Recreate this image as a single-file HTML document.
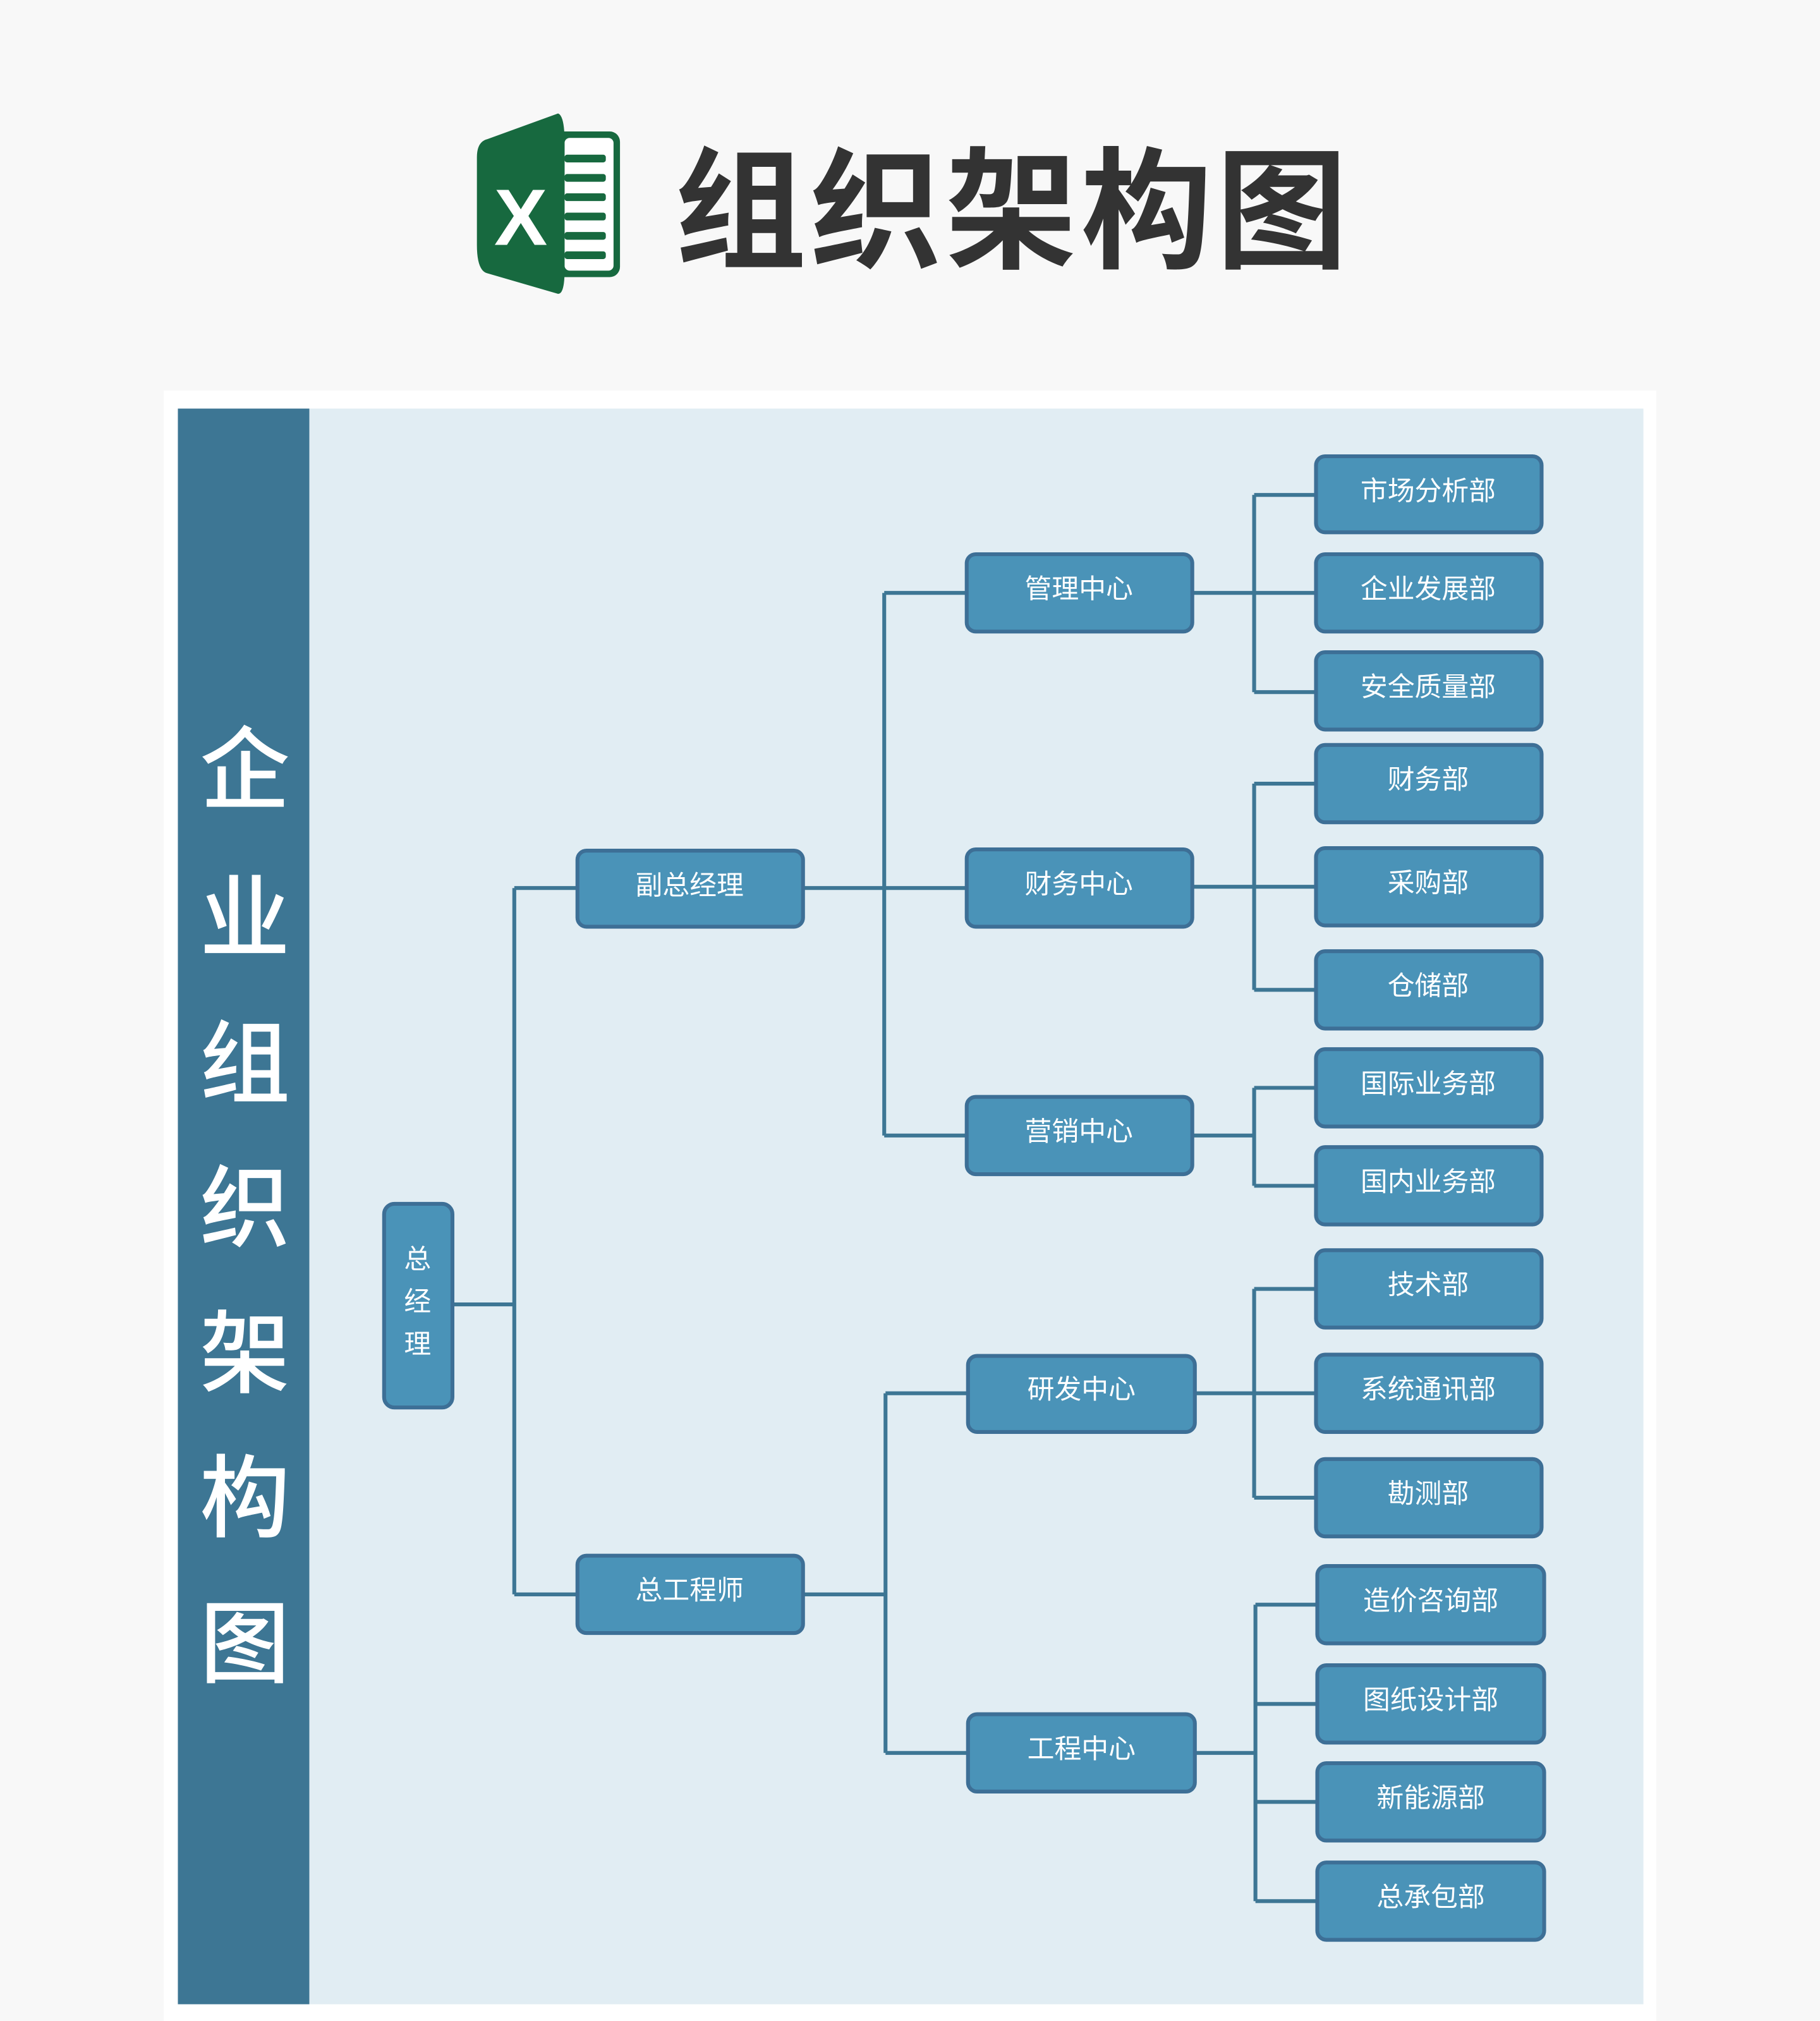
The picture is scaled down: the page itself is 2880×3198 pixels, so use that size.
<!DOCTYPE html>
<html><head><meta charset="utf-8">
<style>
html,body{margin:0;padding:0;background:#f8f8f8;}
svg{display:block;}
text{font-family:"Liberation Sans","Noto Sans CJK SC",sans-serif;}
</style></head>
<body>
<svg width="2880" height="3198" viewBox="0 0 1412 1568" preserveAspectRatio="none" xmlns="http://www.w3.org/2000/svg">
<rect x="0" y="0" width="1412" height="1568" fill="#f8f8f8"/>
<!-- Excel icon -->
<rect x="430" y="102" width="51" height="113" rx="8" fill="#17693f"/>
<rect x="438" y="107" width="38" height="103" rx="4" fill="#ffffff"/>
<g fill="#17693f">
<rect x="438" y="120" width="32" height="6" rx="2"/>
<rect x="438" y="135" width="32" height="6" rx="2"/>
<rect x="438" y="150" width="32" height="6" rx="2"/>
<rect x="438" y="165" width="32" height="6" rx="2"/>
<rect x="438" y="180" width="32" height="6" rx="2"/>
<rect x="438" y="195" width="32" height="6" rx="2"/>
</g>
<path d="M433,88 Q438,90 438,110 L438,210 Q438,228 433,228 L378,212 Q370,210 370,190 L370,122 Q370,110 378,108 Z" fill="#17693f"/>
<text x="404" y="190" font-size="62" font-weight="bold" fill="#ffffff" text-anchor="middle" style="font-family:'Liberation Sans',sans-serif">X</text>
<text x="786" y="200" font-size="102" font-weight="bold" fill="#333333" text-anchor="middle" letter-spacing="3">组织架构图</text>

<!-- card -->
<rect x="127" y="303" width="1158" height="1265" fill="#ffffff"/>
<rect x="138" y="317" width="102" height="1238" fill="#3d7694"/>
<rect x="240" y="317" width="1035" height="1238" fill="#e1edf3"/>
<g font-size="70" fill="#ffffff" text-anchor="middle" font-weight="500">
<text x="190" y="622">企</text>
<text x="190" y="737">业</text>
<text x="190" y="850">组</text>
<text x="190" y="962">织</text>
<text x="190" y="1075">架</text>
<text x="190" y="1187">构</text>
<text x="190" y="1300">图</text>
</g>

<!-- connectors -->
<g stroke="#3d7694" stroke-width="3" fill="none">
<path d="M352,1012 H399 M399,689 V1237 M399,689 H447 M399,1237 H447"/>
<path d="M624,689 H749 M686,460 V881 M686,460 H749 M686,881 H749"/>
<path d="M624,1237 H687 M687,1081 V1360 M687,1081 H750 M687,1360 H750"/>
<path d="M926,460 H1020 M973,384 V537 M973,384 H1020 M973,537 H1020"/>
<path d="M926,688 H1020 M973,608 V768 M973,608 H1020 M973,768 H1020"/>
<path d="M926,881 H973 M973,844 V920 M973,844 H1020 M973,920 H1020"/>
<path d="M928,1081 H1020 M973,1000 V1162 M973,1000 H1020 M973,1162 H1020"/>
<path d="M928,1360 H974 M974,1245 V1475 M974,1245 H1021 M974,1322 H1021 M974,1398 H1021 M974,1475 H1021"/>
</g>

<!-- boxes -->
<g fill="#4a93b8" stroke="#3d6f96" stroke-width="3">
<rect x="298" y="934" width="53" height="158" rx="8"/>
<rect x="448" y="660" width="175" height="59" rx="7"/>
<rect x="448" y="1207" width="175" height="60" rx="7"/>
<rect x="750" y="430" width="175" height="60" rx="7"/>
<rect x="750" y="659" width="175" height="60" rx="7"/>
<rect x="750" y="851" width="175" height="60" rx="7"/>
<rect x="751" y="1052" width="176" height="59" rx="7"/>
<rect x="751" y="1330" width="176" height="60" rx="7"/>
<rect x="1021" y="354" width="175" height="59" rx="7"/>
<rect x="1021" y="430" width="175" height="60" rx="7"/>
<rect x="1021" y="506" width="175" height="60" rx="7"/>
<rect x="1021" y="578" width="175" height="60" rx="7"/>
<rect x="1021" y="658" width="175" height="60" rx="7"/>
<rect x="1021" y="738" width="175" height="60" rx="7"/>
<rect x="1021" y="814" width="175" height="60" rx="7"/>
<rect x="1021" y="890" width="175" height="60" rx="7"/>
<rect x="1021" y="970" width="175" height="60" rx="7"/>
<rect x="1021" y="1051" width="175" height="60" rx="7"/>
<rect x="1021" y="1132" width="175" height="60" rx="7"/>
<rect x="1022" y="1215" width="176" height="60" rx="7"/>
<rect x="1022" y="1292" width="176" height="60" rx="7"/>
<rect x="1022" y="1368" width="176" height="60" rx="7"/>
<rect x="1022" y="1445" width="176" height="60" rx="7"/>
</g>

<g font-size="21" fill="#ffffff" text-anchor="middle">
<text x="324" y="984">总</text>
<text x="324" y="1017">经</text>
<text x="324" y="1050">理</text>
<text x="535" y="694">副总经理</text>
<text x="535" y="1241">总工程师</text>
<text x="837" y="464">管理中心</text>
<text x="837" y="693">财务中心</text>
<text x="837" y="885">营销中心</text>
<text x="839" y="1085">研发中心</text>
<text x="839" y="1364">工程中心</text>
<text x="1108" y="388">市场分析部</text>
<text x="1108" y="464">企业发展部</text>
<text x="1108" y="540">安全质量部</text>
<text x="1108" y="612">财务部</text>
<text x="1108" y="692">采购部</text>
<text x="1108" y="772">仓储部</text>
<text x="1108" y="848">国际业务部</text>
<text x="1108" y="924">国内业务部</text>
<text x="1108" y="1004">技术部</text>
<text x="1108" y="1085">系统通讯部</text>
<text x="1108" y="1166">勘测部</text>
<text x="1110" y="1249">造价咨询部</text>
<text x="1110" y="1326">图纸设计部</text>
<text x="1110" y="1402">新能源部</text>
<text x="1110" y="1479">总承包部</text>
</g>
</svg>
</body></html>
